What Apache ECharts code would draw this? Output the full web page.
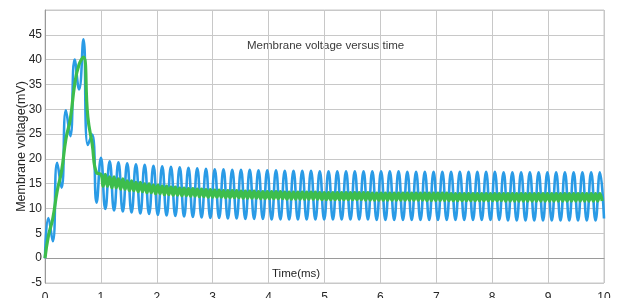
<!DOCTYPE html>
<html>
<head>
<meta charset="utf-8">
<script src="https://cdn.jsdelivr.net/npm/echarts@6/dist/echarts.min.js"></script>
<style>
  html, body { margin: 0; padding: 0; background: #fff; }
  #chart { width: 617px; height: 298px; }
</style>
</head>
<body>
<div id="chart"></div>
<script>
// time of first extreme and half period of the blue oscillation (ms)
const T0 = 0.061
const HALF = 0.0783

// extremes during the rise (0 - 0.95 ms), alternating peak / trough
const blueRise = [8.1, 3.4, 19.2, 14.2, 29.8, 24.6, 40.0, 34.0, 44.1, 22.8, 24.9, 11.2]
const greenRise = [4.5, 8.0, 13.5, 17.5, 24.0, 28.0, 35.0, 39.0, 40.5, 28.5, 23.0, 17.2]

// steady part from 1 ms on, blue peaks / troughs
const bluePeaks = [
  20.2, 19.5, 19.3, 19.1, 18.9, 18.8, 18.6, 18.5, 18.4, 18.3,
  18.2, 18.1, 18.0, 17.9, 17.9, 17.8, 17.8, 17.8, 17.7, 17.7,
  17.7, 17.6, 17.6, 17.6, 17.6, 17.5, 17.5, 17.5, 17.5, 17.5,
  17.5, 17.5, 17.5, 17.5, 17.5, 17.4, 17.4, 17.4, 17.4, 17.4,
  17.4, 17.4, 17.4, 17.4, 17.4, 17.4, 17.3, 17.3, 17.3, 17.3,
  17.3, 17.3, 17.3, 17.3, 17.3, 17.3, 17.3, 17.3,
]
const blueTroughs = [
  9.9, 9.6, 9.4, 9.2, 9.0, 8.9, 8.7, 8.6, 8.5, 8.4,
  8.3, 8.2, 8.1, 8.1, 8.0, 8.0, 7.9, 7.9, 7.9, 7.8,
  7.8, 7.8, 7.8, 7.8, 7.8, 7.8, 7.8, 7.8, 7.8, 7.8,
  7.8, 7.7, 7.7, 7.7, 7.7, 7.7, 7.7, 7.7, 7.7, 7.7,
  7.7, 7.7, 7.7, 7.7, 7.7, 7.7, 7.6, 7.6, 7.6, 7.6,
  7.6, 7.6, 7.6, 7.6, 7.6, 7.6, 7.6,
]
// green band (fast ripple), top and bottom per blue cycle
const greenTop = [
  16.9, 16.4, 16.0, 15.6, 15.3, 15.0, 14.7, 14.5, 14.3, 14.1,
  14.0, 13.9, 13.8, 13.7, 13.6, 13.6, 13.5, 13.5, 13.4, 13.4,
  13.4, 13.3, 13.3, 13.3, 13.3, 13.2, 13.2, 13.2, 13.2, 13.2,
  13.2, 13.1, 13.1, 13.1, 13.1, 13.1, 13.1, 13.1, 13.1, 13.1,
  13.0, 13.0, 13.0, 13.0, 13.0, 13.0, 13.0, 13.0, 13.0, 13.0,
  13.0, 13.0, 13.0, 13.0, 13.0, 13.0, 13.0, 13.0,
]
const greenBottom = [
  14.5, 14.2, 13.9, 13.6, 13.4, 13.2, 13.0, 12.8, 12.7, 12.6,
  12.5, 12.4, 12.3, 12.3, 12.2, 12.2, 12.1, 12.1, 12.0, 12.0,
  12.0, 11.9, 11.9, 11.9, 11.9, 11.8, 11.8, 11.8, 11.8, 11.8,
  11.7, 11.7, 11.7, 11.7, 11.7, 11.7, 11.7, 11.6, 11.6, 11.6,
  11.6, 11.6, 11.6, 11.6, 11.6, 11.6, 11.5, 11.5, 11.5, 11.5,
  11.5, 11.5, 11.5, 11.5, 11.5, 11.5, 11.5, 11.5,
]
const startValue = 0
const blueEnd = 8.0
const xMax = 10

function buildBlue() {
  const pts = [[0, startValue]]
  blueRise.forEach((v, j) => pts.push([T0 + j * HALF, v]))
  const n0 = blueRise.length
  const n = n0 + bluePeaks.length + blueTroughs.length
  for (let j = n0; j < n; j++) {
    const k = (j - n0) >> 1
    pts.push([T0 + j * HALF, (j - n0) % 2 === 0 ? bluePeaks[k] : blueTroughs[k]])
  }
  pts.push([xMax, blueEnd])
  return pts
}

function buildGreen() {
  const pts = [[0, startValue]]
  greenRise.forEach((v, j) => pts.push([T0 + j * HALF, v]))
  const n0 = greenRise.length
  greenTop.forEach((top, k) => {
    const j = n0 + 2 * k
    pts.push([T0 + j * HALF, top])
    pts.push([T0 + (j + 0.5) * HALF, greenBottom[k]])
    pts.push([T0 + (j + 1) * HALF, top])
    pts.push([T0 + (j + 1.5) * HALF, greenBottom[k]])
  })
  return pts.filter((p) => p[0] <= xMax)
}

const chart = echarts.init(document.getElementById('chart'))
const font = 'Liberation Sans, Arial, sans-serif'
chart.setOption({
  animation: false,
  grid: {
    left: 45,
    right: 13,
    top: 10,
    bottom: 15,
    outerBoundsMode: 'none',
    show: true,
    borderColor: '#c8c8c8',
    borderWidth: 1,
  },
  graphic: [
    {
      type: 'text',
      left: 247,
      top: 40,
      style: { text: 'Membrane voltage versus time', font: '11.5px ' + font, fill: '#3a3a3a' },
    },
    {
      type: 'text',
      left: 272,
      top: 268,
      style: { text: 'Time(ms)', font: '11.5px ' + font, fill: '#262626' },
    },
  ],
  xAxis: {
    type: 'value',
    min: 0,
    max: xMax,
    interval: 1,
    axisLine: { lineStyle: { color: '#9a9a9a' } },
    axisTick: { show: false },
    axisLabel: { margin: 9, fontSize: 12, fontFamily: font, color: '#262626' },
    splitLine: { lineStyle: { color: '#c8c8c8' } },
  },
  yAxis: {
    type: 'value',
    min: -5,
    max: 50,
    interval: 5,
    name: 'Membrane voltage(mV)',
    nameLocation: 'middle',
    nameGap: 17,
    nameMoveOverlap: false,
    nameTextStyle: { fontSize: 12.5, fontFamily: font, color: '#262626' },
    axisLine: { show: true, lineStyle: { color: '#9a9a9a' } },
    axisTick: { show: false },
    axisLabel: { margin: 3, fontSize: 12, fontFamily: font, color: '#262626', showMaxLabel: false },
    splitLine: { lineStyle: { color: '#c8c8c8' } },
  },
  series: [
    {
      type: 'line',
      data: buildBlue(),
      smooth: 0.5,
      showSymbol: false,
      sampling: null,
      lineStyle: { color: '#2a9be6', width: 2.6 },
      itemStyle: { color: '#2a9be6' },
    },
    {
      type: 'line',
      data: buildGreen(),
      smooth: 0.5,
      showSymbol: false,
      lineStyle: { color: '#3dbd4c', width: 3.2 },
      itemStyle: { color: '#3dbd4c' },
    },
  ],
})
</script>
</body>
</html>
